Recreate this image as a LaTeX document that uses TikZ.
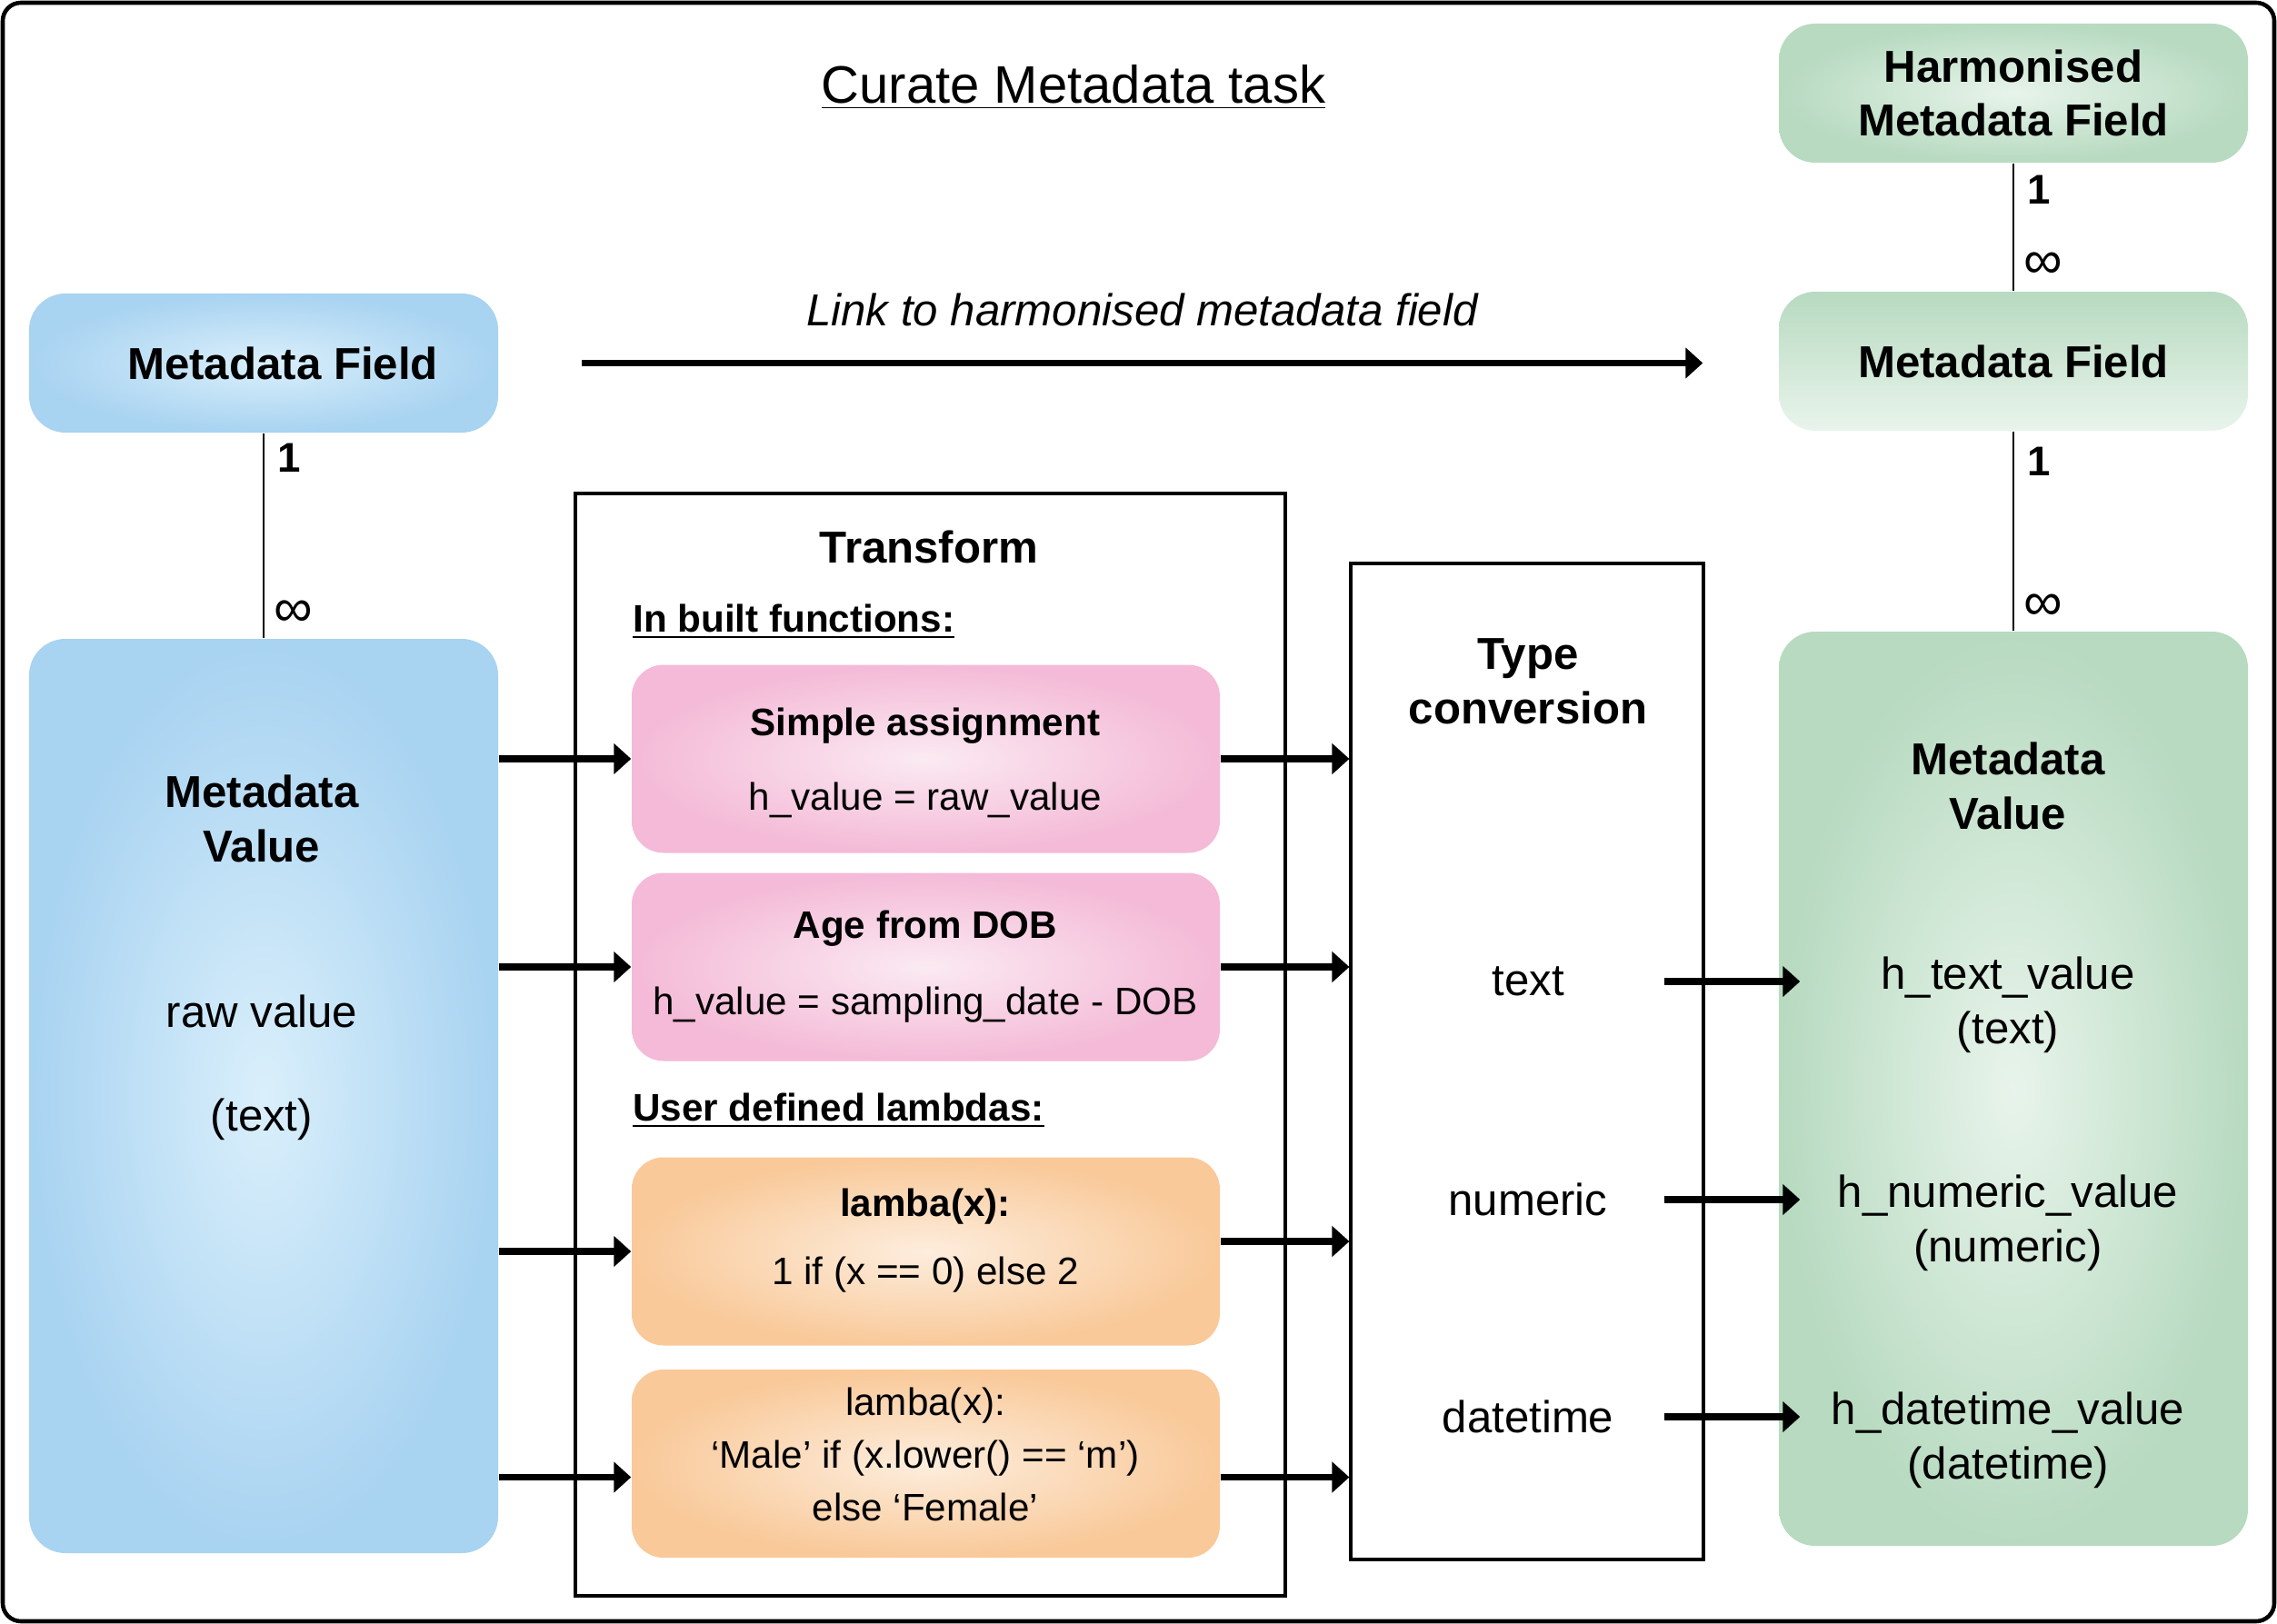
\documentclass[tikz,border=0pt]{standalone}
\usepackage{fontspec}
\setmainfont{Liberation Sans}
\usetikzlibrary{arrows.meta}

\definecolor{blueout}{HTML}{A8D3F1}
\definecolor{bluein}{HTML}{DAEFFB}
\definecolor{pinkout}{HTML}{F4BAD7}
\definecolor{pinkin}{HTML}{FBEAF2}
\definecolor{orangeout}{HTML}{F9C999}
\definecolor{orangein}{HTML}{FDEDDD}
\definecolor{greenout}{HTML}{B7DAC0}
\definecolor{greenin}{HTML}{E8F4EB}
\definecolor{greenlite}{HTML}{E9F4EC}

\newcommand{\fsz}[2]{\fontsize{#1}{#2}\selectfont}

\begin{document}
\begin{tikzpicture}[
    box/.style={rounded corners=0.4cm, inner sep=0pt, minimum width=5.16cm},
    fieldbox/.style={box, minimum height=1.53cm, font=\fsz{14}{17}\bfseries},
    valuebox/.style={box, minimum height=10.06cm},
    card/.style={rounded corners=0.35cm, inner sep=0pt, minimum width=6.47cm, minimum height=2.07cm},
    panel/.style={draw, line width=0.9pt, inner sep=0pt},
    conn/.style={line width=0.7pt},
    one/.style={inner sep=4pt, anchor=west, font=\fsz{13}{15}\bfseries},
    many/.style={inner sep=3pt, anchor=west, font=\fsz{17}{18}},
    flow/.style={line width=2pt, -{Triangle[length=0.19cm, width=0.33cm]}},
    big/.style={font=\fsz{14}{17.2}, align=center},
    bigb/.style={font=\fsz{14}{17.2}\bfseries, align=center},
    small/.style={font=\fsz{12}{14.4}, align=center},
    smallb/.style={font=\fsz{12}{14.4}\bfseries, align=center},
]
\useasboundingbox (0,0) rectangle (25.05,-17.87);
\draw[line width=1.3pt, rounded corners=0.2cm] (0.03,-0.03) rectangle (25.02,-17.84);

\node[font=\fsz{16.5}{20}] (title) at (11.81,-0.96) {\underline{Curate Metadata task}};

% left side
\node[fieldbox, inner color=bluein, outer color=blueout] (mfield) at (2.90,-3.995) {};
\node[fieldbox] (mfieldtxt) at (3.11,-3.995) {Metadata Field};
\node[valuebox, inner color=bluein, outer color=blueout] (mvalue) at (2.90,-12.06) {};
\node[bigb] (mvaluetxt) at (2.88,-9.01) {Metadata\\Value};
\node[big] (rawtxt) at (2.88,-11.13) {raw value};
\node[big] (rawtype) at (2.88,-12.32) {(text)};

\draw[conn] (mfield.south) -- node[one, pos=0.12] (mfone) {1}
    node[many, pos=0.88] (mfmany) {∞} (mvalue.north);

% right side
\node[fieldbox, inner color=greenin, outer color=greenout, align=center] (hfield) at (22.15,-1.025) {Harmonised\\Metadata Field};
\node[fieldbox, top color=greenout, bottom color=greenlite] (rfield) at (22.15,-3.975) {Metadata Field};
\node[valuebox, inner color=greenin, outer color=greenout] (rvalue) at (22.15,-11.98) {};
\node[bigb] (rvaluetxt) at (22.09,-8.65) {Metadata\\Value};
\node[big] (htext) at (22.09,-11.06) {h\_text\_value\\(text)};
\node[big] (hnum) at (22.09,-13.46) {h\_numeric\_value\\(numeric)};
\node[big] (hdate) at (22.09,-15.85) {h\_datetime\_value\\(datetime)};

\draw[conn] (hfield.south) -- node[one, pos=0.21] (hfone) {1}
    node[many, pos=0.80] (hfmany) {∞} (rfield.north);
\draw[conn] (rfield.south) -- node[one, pos=0.15] (rfone) {1}
    node[many, pos=0.88] (rfmany) {∞} (rvalue.north);

\draw[flow] ([xshift=0.91cm]mfield.east) -- node[above=0.25cm, font=\fsz{14}{17}\itshape] (linktxt) {Link to harmonised metadata field} ([xshift=-0.83cm]rfield.west |- mfield.east);

% transform
\node[panel, minimum width=7.81cm, minimum height=12.13cm] (tfbox) at (10.235,-11.495) {};
\node[bigb] (tftxt) at (10.22,-6.02) {Transform};
\node[smallb, anchor=west] (inbuilt) at (6.84,-6.84) {\underline{In built functions:}};
\node[smallb, anchor=west] (userdef) at (6.84,-12.22) {\underline{User defined lambdas:}};

\node[card, inner color=pinkin, outer color=pinkout] (sa) at (10.185,-8.35) {};
\node[smallb] (satitle) at (10.18,-7.99) {Simple assignment};
\node[small] (sabody) at (10.18,-8.80) {h\_value = raw\_value};
\node[card, inner color=pinkin, outer color=pinkout] (dob) at (10.185,-10.64) {};
\node[smallb] (dobtitle) at (10.18,-10.22) {Age from DOB};
\node[small] (dobbody) at (10.18,-11.06) {h\_value = sampling\_date - DOB};
\node[card, inner color=orangein, outer color=orangeout] (lamone) at (10.185,-13.77) {};
\node[smallb] (lamonetitle) at (10.18,-13.28) {lamba(x):};
\node[small] (lamonebody) at (10.18,-14.03) {1 if (x == 0) else 2};
\node[card, inner color=orangein, outer color=orangeout] (lamtwo) at (10.185,-16.105) {};
\node[font=\fsz{12}{16.5}, align=center] (lamtwobody) at (10.18,-16.00) {lamba(x):\\‘Male’ if (x.lower() == ‘m’)\\else ‘Female’};

% type conversion
\node[panel, minimum width=3.88cm, minimum height=10.96cm] (tconv) at (16.80,-11.68) {};
\node[bigb] (tconvtxt) at (16.81,-7.50) {Type\\conversion};
\node[big] (tctext) at (16.81,-10.80) {text};
\node[big] (tcnum) at (16.81,-13.20) {numeric};
\node[big] (tcdate) at (16.81,-15.59) {datetime};

% flows
\foreach \card/\din/\dout in {sa/0/0, dob/0/0, lamone/0/0.11, lamtwo/-0.15/-0.15} {
  \draw[flow] ([yshift=\din cm]mvalue.east |- \card.west) -- ([yshift=\din cm]\card.west);
  \draw[flow] ([yshift=\dout cm]\card.east) -- ([yshift=\dout cm]tconv.west |- \card.east);
}
\foreach \src/\dst in {tctext/htext, tcnum/hnum, tcdate/hdate} {
  \draw[flow] ([xshift=-0.45cm]tconv.east |- \src) -- ([xshift=0.24cm]rvalue.west |- \src);
}
\end{tikzpicture}
\end{document}
